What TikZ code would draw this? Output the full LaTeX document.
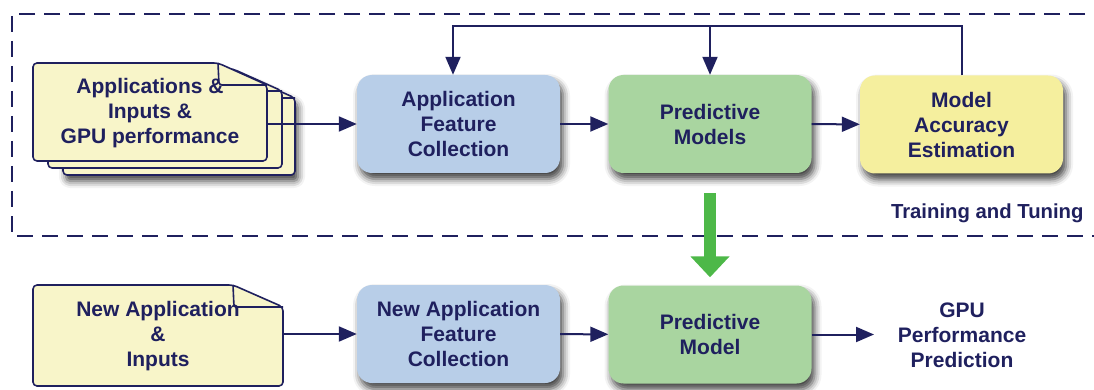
\documentclass[tikz,border=0pt]{standalone}
\usepackage{fontspec}
\setmainfont{Liberation Sans}
\usetikzlibrary{arrows.meta,shadows.blur,calc}
\definecolor{navy}{HTML}{1F205E}
\definecolor{boxblue}{HTML}{B8CEE8}
\definecolor{boxgreen}{HTML}{A9D5A0}
\definecolor{boxyellow}{HTML}{F5EF9E}
\definecolor{docyellow}{HTML}{F8F5C9}
\definecolor{arrowgreen}{HTML}{4DB848}
\tikzset{
  txt/.style={text=navy, font=\fontsize{21}{25}\selectfont\bfseries, align=center},
  shade/.style={blur shadow={shadow xshift=3pt, shadow yshift=-6pt, shadow blur radius=7pt, shadow opacity=75}},
  procbox/.style={txt, rounded corners=15pt, minimum width=203pt, minimum height=98pt, shade},
  flow/.style={draw=navy, line width=2pt, -{Triangle[length=18pt,width=15pt]}},
  docline/.style={draw=navy, line width=1.6pt, fill=docyellow, line join=round, rounded corners=4pt},
  foldline/.style={draw=navy, line width=1.6pt, rounded corners=3pt},
  frame/.style={draw=navy, line width=2pt, dash pattern=on 16pt off 9pt},
  bigarrow/.style={draw=arrowgreen, line width=12pt, -{Triangle[length=21pt,width=38pt]}},
}
% #1 x, #2 y, #3 w, #4 h, #5 fold width, #6 fold height, #7 extra options
\newcommand\docpage[7]{%
  \path[docline,#7] (#1,#2) -- ({#1+#3-#5},#2) -- ({#1+#3},{#2+#6}) -- ({#1+#3},{#2+#4}) -- (#1,{#2+#4}) -- cycle;
  \draw[foldline] ({#1+#3-#5},#2) -- ({#1+#3-#5+1},{#2+#6}) -- ({#1+#3},{#2+#6});
}
\begin{document}
\begin{tikzpicture}[x=1pt,y=-1pt]
\useasboundingbox (0,0) rectangle (1094,390);
% training frame
\draw[frame] (1110,14) -- (12,14) -- (12,236) -- (1110,236);
\node[txt, font=\fontsize{20.3}{25}\selectfont\bfseries, anchor=east] (tt) at (1087,213) {Training and Tuning};

% stacked documents
\docpage{63}{76}{232}{99}{49}{22}{shade}
\docpage{48}{69}{234}{99}{49}{22}{}
\docpage{33}{63}{234}{98}{49}{22}{}
\node[txt, minimum width=234pt, minimum height=98pt, inner sep=0pt] (docA) at (150,113)
  {Applications \&\\Inputs \&\\GPU performance};

% upper row
\node[procbox, fill=boxblue] (afc) at (458.5,124) {Application\\Feature\\Collection};
\node[procbox, fill=boxgreen] (pm) at (710,124) {Predictive\\Models};
\node[procbox, fill=boxyellow] (mae) at (961.5,124.5) {Model\\Accuracy\\Estimation};

\draw[flow] (docA.east |- afc.west) -- (afc.west);
\draw[flow] (afc) -- (pm);
\draw[flow] (pm) -- (mae);

\coordinate (fbtop) at (453,26);
\draw[flow] (mae.north) |- (fbtop) -- (fbtop |- afc.north);
\draw[flow] (pm.north |- fbtop) -- (pm.north);

% lower row
\docpage{33}{285}{250}{101}{50}{22}{}
\node[txt, minimum width=250pt, minimum height=101pt, inner sep=0pt] (docB) at (158,336)
  {New Application\\\&\\Inputs};
\node[procbox, fill=boxblue] (nafc) at (458.5,334) {New Application\\Feature\\Collection};
\node[procbox, fill=boxgreen] (pm2) at (710,334.5) {Predictive\\Model};
\node[txt, inner sep=0pt] (gpu) at (962,335) {GPU\\Performance\\Prediction};

\draw[flow] (docB.east |- nafc.west) -- (nafc.west);
\draw[flow] (nafc) -- (pm2);
\coordinate (gpuin) at (874,334.5);
\draw[flow] (pm2.east) -- (gpuin);

% model transfer arrow
\draw[bigarrow, shorten <=20pt, shorten >=8pt] (pm.south) -- (pm2.north);
\end{tikzpicture}
\end{document}
